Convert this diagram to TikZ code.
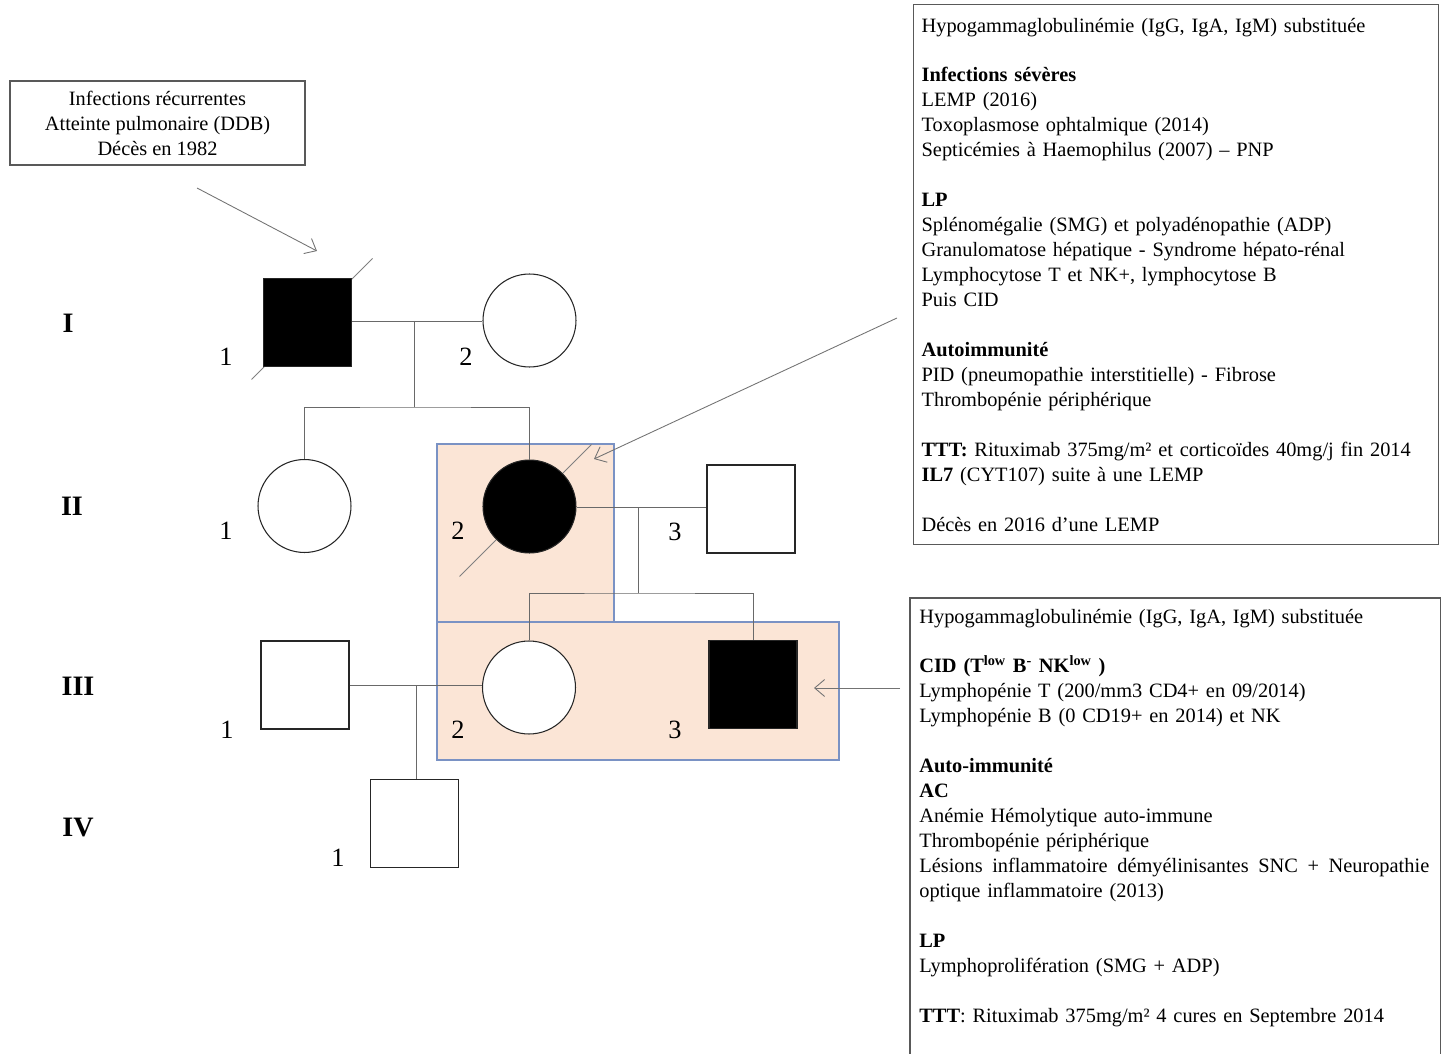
\documentclass[tikz,border=0pt]{standalone}
\usepackage{fontspec}
\setmainfont{Liberation Serif}
\usetikzlibrary{arrows.meta}

\definecolor{peach}{RGB}{251,229,214}
\definecolor{boxblue}{RGB}{122,146,196}
\definecolor{linegray}{RGB}{105,105,105}

\begin{document}
\begin{tikzpicture}[x=0.02cm, y=-0.02cm,
  every node/.style={inner sep=0pt},
  male/.style={rectangle, draw=black!85, line width=0.6pt, minimum size=1.76cm, fill=white},
  female/.style={circle, draw=black!85, line width=0.6pt, minimum size=1.86cm, fill=white},
  affected/.style={fill=black},
  num/.style={font=\fontsize{15}{18}\selectfont},
  gen/.style={font=\fontsize{16}{19}\selectfont\bfseries},
  link/.style={draw=linegray, line width=0.5pt},
  slash/.style={draw=gray, line width=0.5pt},
  carrier/.style={draw=boxblue, fill=peach, line width=0.6pt},
  note/.style={font=\fontsize{11.6}{14.2}\selectfont, align=left},
  frame/.style={draw=black!65, line width=0.7pt},
  pointer/.style={draw=gray!90!black, line width=0.5pt, -{Straight Barb[length=2mm, width=3.4mm]}}
]
  \useasboundingbox (0,0) rectangle (1448,1054);

  % highlighted individuals
  \draw[carrier] (437,444) rectangle (614,622);
  \draw[carrier] (437,622) rectangle (839,760);

  % generation labels
  \node[gen] (gI)   at (68,323)  {I};
  \node[gen] (gII)  at (72,506)  {II};
  \node[gen] (gIII) at (78,686)  {III};
  \node[gen] (gIV)  at (78,828)  {IV};

  % individuals
  \coordinate (I1c) at (307.5,322.5);
  \coordinate (II2c) at (529.5,506.5);
  \draw[slash] (I1c) ++(-56,57) -- ++(121,-121);
  \draw[slash] (II2c) ++(-70,70) -- ++(132,-132);

  \node[male, affected] (I1)   at (I1c)         {};
  \node[female]         (I2)   at (529.5,320.5) {};
  \node[female]         (II1)  at (304.5,506)   {};
  \node[female,affected](II2)  at (II2c)        {};
  \node[male]           (II3)  at (751,509)     {};
  \node[male]           (III1) at (305,685)     {};
  \node[female]         (III2) at (529,687.5)   {};
  \node[male, affected] (III3) at (753,684.5)   {};
  \node[male]           (IV1)  at (414.5,823.5) {};

  \node[num] (nI1)   at (226,357) {1};
  \node[num] (nI2)   at (466,357) {2};
  \node[num] (nII1)  at (226,531) {1};
  \node[num] (nII2)  at (458,531) {2};
  \node[num] (nII3)  at (675,532) {3};
  \node[num] (nIII1) at (227,730) {1};
  \node[num] (nIII2) at (458,730) {2};
  \node[num] (nIII3) at (675,730) {3};
  \node[num] (nIV1)  at (338,858) {1};

  % unions and offspring
  \coordinate (m1) at (414,321);
  \coordinate (s1) at (414,407);
  \draw[link] (I1.east |- m1) -- (I2.west |- m1);
  \draw[link] (m1) -- (s1);
  \draw[link] (II1.north) |- (s1) -| (II2.north);

  \coordinate (m2) at (638,507);
  \coordinate (s2) at (638,593);
  \draw[link] (II2.east |- m2) -- (II3.west |- m2);
  \draw[link] (m2) -- (s2);
  \draw[link] (III2.north) |- (s2) -| (III3.north);

  \coordinate (m3) at (416,685);
  \draw[link] (III1.east |- m3) -- (III2.west |- m3);
  \draw[link] (m3) -- (m3 |- IV1.north);

  % notes
  \node[note, frame, align=center, minimum width=5.9cm, minimum height=1.68cm] (hist) at (157.5,123)
    {Infections récurrentes\\Atteinte pulmonaire (DDB)\\Décès en 1982};

  \node[note, frame, anchor=north west, text width=10.18cm, inner xsep=0.16cm,
        minimum height=10.8cm] (caseII) at (913,4) {%
    Hypogammaglobulinémie (IgG, IgA, IgM) substituée\\[14.2pt]
    \textbf{Infections sévères}\\
    LEMP (2016)\\
    Toxoplasmose ophtalmique (2014)\\
    Septicémies à Haemophilus (2007) – PNP\\[14.2pt]
    \textbf{LP}\\
    Splénomégalie (SMG) et polyadénopathie (ADP)\\
    Granulomatose hépatique - Syndrome hépato-rénal\\
    Lymphocytose T et NK+, lymphocytose B\\
    Puis CID\\[14.2pt]
    \textbf{Autoimmunité}\\
    PID (pneumopathie interstitielle) - Fibrose\\
    Thrombopénie périphérique\\[14.2pt]
    \textbf{TTT:} Rituximab 375mg/m² et corticoïdes 40mg/j fin 2014\\
    \textbf{IL7} (CYT107) suite à une LEMP\\[14.2pt]
    Décès en 2016 d’une LEMP};

  \node[note, anchor=north west, text width=10.24cm, inner xsep=0.18cm, inner ysep=6pt] (caseIII) at (910,598) {%
    Hypogammaglobulinémie (IgG, IgA, IgM) substituée\\[14.2pt]
    \textbf{CID (T\textsuperscript{low} B\textsuperscript{-} NK\textsuperscript{low} )}\\
    Lymphopénie T (200/mm3 CD4+ en 09/2014)\\
    Lymphopénie B (0 CD19+ en 2014) et NK\\[14.2pt]
    \textbf{Auto-immunité}\\
    \textbf{AC}\\
    Anémie Hémolytique auto-immune\\
    Thrombopénie périphérique\\
    \mbox{\hbox to 10.2cm{Lésions\hfill inflammatoire\hfill démyélinisantes\hfill SNC\hfill +\hfill Neuropathie}}\\
    optique inflammatoire (2013)\\[14.2pt]
    \textbf{LP}\\
    Lymphoprolifération (SMG + ADP)\\[14.2pt]
    \textbf{TTT}: Rituximab 375mg/m² 4 cures en Septembre 2014};
  \draw[frame] (caseIII.north west |- 0,1070) -- (caseIII.north west) -- (caseIII.north east) -- (caseIII.north east |- 0,1070);

  % pointers
  \coordinate (p1a) at (197,188);
  \coordinate (p1b) at (317,251);
  \coordinate (p2a) at (897,318);
  \coordinate (p2b) at (594,459);
  \coordinate (p3a) at (900,688);
  \coordinate (p3b) at (814,688);
  \draw[pointer] (p1a) -- (p1b);
  \draw[pointer] (p2a) -- (p2b);
  \draw[pointer] (p3a) -- (p3b);
\end{tikzpicture}
\end{document}
